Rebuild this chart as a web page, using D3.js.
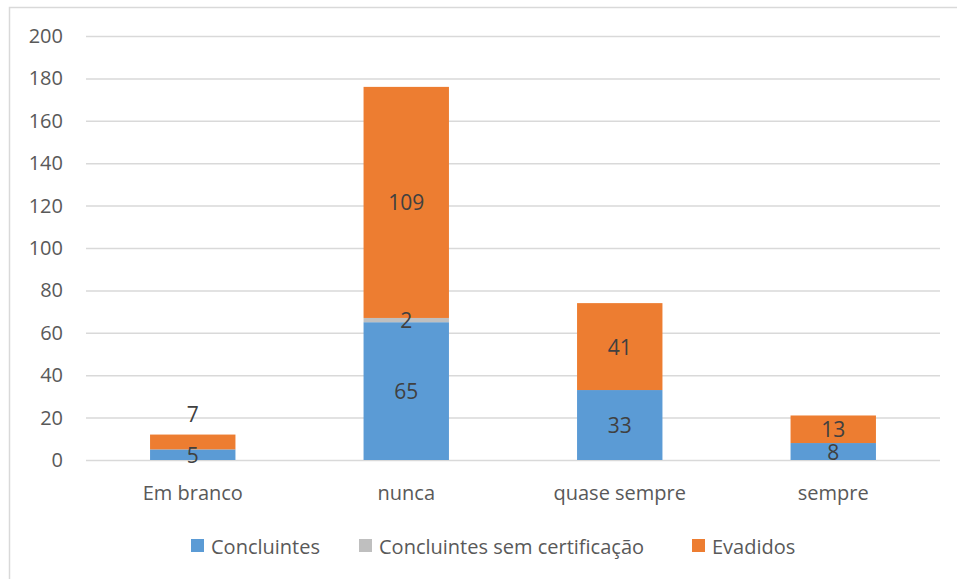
<!DOCTYPE html>
<html><head><meta charset="utf-8">
<script src="https://cdn.jsdelivr.net/npm/d3@7"></script>
<style>body{margin:0;background:#fff}text{font-family:"Open Sans","Noto Sans",sans-serif}</style>
</head><body><svg id="c" width="957" height="579"></svg>
<script>
const categories = ["Em branco", "nunca", "quase sempre", "sempre"];
const seriesNames = ["Concluintes", "Concluintes sem certificação", "Evadidos"];
const concluintes = [5, 65, 33, 8];
const semCertificacao = [0, 2, 0, 0];
const evadidos = [7, 109, 41, 13];
const yTicks = [0, 20, 40, 60, 80, 100, 120, 140, 160, 180, 200];
const colors = ["#5B9BD5", "#BFBFBF", "#ED7D31"];

const svg = d3.select("#c");
svg.append("rect").attr("x", 9.5).attr("y", 7.5).attr("width", 1000).attr("height", 1000)
  .attr("fill", "#fff").attr("stroke", "#D9D9D9").attr("stroke-width", 1.5);

const m = {l: 86, r: 940, t: 36, b: 460};
const x = d3.scaleBand().domain(categories).range([m.l, m.r]).paddingInner(0.6).paddingOuter(0.3);
const y = d3.scaleLinear().domain([0, 200]).range([m.b, m.t]);

const yAxis = svg.append("g").attr("transform", `translate(${m.l},0)`)
  .call(d3.axisLeft(y).tickValues(yTicks).tickSize(-(m.r - m.l)).tickPadding(23));
yAxis.select(".domain").remove();
yAxis.selectAll("line").attr("stroke", "#D9D9D9").attr("stroke-width", 1.5);
yAxis.selectAll("text").attr("fill", "#595959").style("font-size", "20px");

const xAxis = svg.append("g").attr("transform", `translate(0,${m.b})`)
  .call(d3.axisBottom(x).tickSize(0).tickPadding(20));
xAxis.select(".domain").remove();
xAxis.selectAll("text").attr("fill", "#595959").style("font-size", "20px")
  .attr("dy", "0").attr("dominant-baseline", "central").attr("y", 32);

const rows = categories.map((c, i) => ({cat: c, s0: concluintes[i], s1: semCertificacao[i], s2: evadidos[i]}));
const stack = d3.stack().keys(["s0", "s1", "s2"])(rows);

stack.forEach((layer, li) => {
  svg.append("g").selectAll("rect").data(layer).join("rect")
    .attr("x", d => x(d.data.cat)).attr("width", x.bandwidth())
    .attr("y", d => y(d[1])).attr("height", d => y(d[0]) - y(d[1]))
    .attr("fill", colors[li]);
});

// data labels
stack.forEach((layer, li) => {
  layer.forEach(d => {
    const v = d[1] - d[0];
    if (v <= 0) return;
    let cy = (y(d[0]) + y(d[1])) / 2;
    if (d.data.cat === "Em branco" && li === 2) cy = y(d[1]) - 21;
    svg.append("text").attr("x", x(d.data.cat) + x.bandwidth() / 2).attr("y", cy)
      .attr("text-anchor", "middle").attr("dominant-baseline", "central")
      .attr("fill", "#404040").style("font-size", "21px").text(v);
  });
});

// legend
const legendX = [191, 359, 692];
seriesNames.forEach((n, i) => {
  svg.append("rect").attr("x", legendX[i]).attr("y", 539).attr("width", 13).attr("height", 13).attr("fill", colors[i]);
  svg.append("text").attr("x", legendX[i] + 20).attr("y", 546).attr("dominant-baseline", "central")
    .attr("fill", "#595959").style("font-size", "20px").text(n);
});
</script></body></html>
